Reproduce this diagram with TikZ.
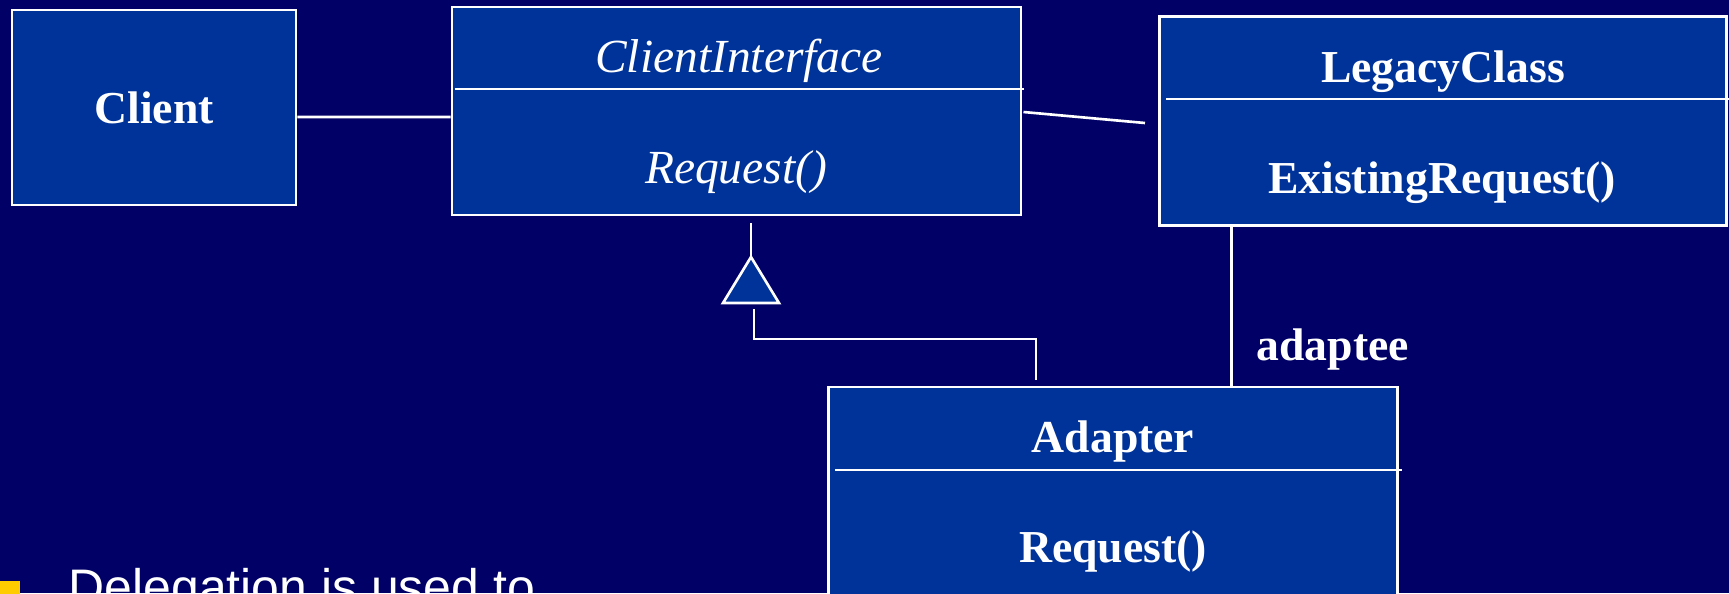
\documentclass[tikz,border=0pt]{standalone}
\usepackage{fontspec}
\setmainfont{Liberation Serif}
\newfontfamily\slidefont{Liberation Sans}
\usetikzlibrary{positioning}
\definecolor{slidebg}{RGB}{0,0,102}
\definecolor{boxblue}{RGB}{0,51,153}
\definecolor{bulletgold}{RGB}{255,204,0}
\tikzset{
  cls/.style={draw=white,fill=boxblue,line width=0.75pt,inner sep=0pt},
  lnk/.style={white,line width=0.75pt},
  nm/.style={text=white,font=\bfseries\fontsize{13}{15}\selectfont,anchor=base,inner sep=0pt},
  absnm/.style={nm,font=\itshape\fontsize{13.5}{16}\selectfont},
  bullettxt/.style={text=white,font=\slidefont\fontsize{14.2}{17}\selectfont,anchor=base west,inner sep=0pt}
}

\begin{document}
\begin{tikzpicture}[x=0.01cm,y=-0.01cm]
  \useasboundingbox (0,0) rectangle (1729,593);
  \clip (0,0) rectangle (1729,593);
  \fill[slidebg] (0,0) rectangle (1729,593);
  % classes
  \node[cls,minimum width=2.84cm,minimum height=1.95cm] (client) at (154,107.5) {};
  \node[cls,minimum width=5.69cm,minimum height=2.08cm] (ci) at (736.5,111) {};
  \node[cls,minimum width=5.67cm,minimum height=2.09cm] (legacy) at (1443,121) {};
  \node[cls,minimum width=5.69cm,minimum height=2.40cm] (adapter) at (1113,507) {};
  \draw[lnk] ([xshift=.04cm,yshift=.22cm]ci.west) -- ([xshift=.02cm,yshift=.22cm]ci.east);
  \draw[lnk] ([xshift=.08cm,yshift=.22cm]legacy.west) -- ([xshift=.03cm,yshift=.22cm]legacy.east);
  \draw[lnk] ([xshift=.08cm,yshift=.37cm]adapter.west) -- ([xshift=.03cm,yshift=.37cm]adapter.east);
  % names and operations
  \node[nm] (clientnm) at (154,123) {Client};
  \node[absnm] (cinm) at (739,72) {ClientInterface};
  \node[absnm] (cireq) at (736,183) {Request()};
  \node[nm] (legacynm) at (1443,82) {LegacyClass};
  \node[nm] (legacyreq) at (1442,193) {ExistingRequest()};
  \node[nm] (adapternm) at (1113,452) {Adapter};
  \node[nm] (adapterreq) at (1113,562) {Request()};
  \node[nm,anchor=base west] (adlbl) at (1256,360) {adaptee};
  % links
  \draw[lnk] ([yshift=-.095cm]client.east) -- ([yshift=-.06cm]ci.west);
  \draw[lnk] ([xshift=.01cm,yshift=-.01cm]ci.east) -- ([xshift=-.13cm,yshift=-.02cm]legacy.west);
  \draw[lnk] ([xshift=.735cm]legacy.south west) -- ([xshift=.735cm]legacy.south west |- adapter.north);
  % generalization
  \coordinate (tip) at (751,257);
  \coordinate (tbl) at (723,303);
  \coordinate (tbr) at (779,303);
  \coordinate[below=.07cm of ci.south] (gtop);
  \coordinate (gbot) at (754,309);
  \coordinate (ahook) at (1036,380);
  \draw[lnk] (tip) -- (tip |- gtop);
  \draw[lnk,fill=boxblue,line join=miter] (tip) -- (tbl) -- (tbr) -- cycle;
  \draw[lnk] (gbot) |- ([yshift=.41cm]ahook) -- (ahook);
  % bullet
  \fill[bulletgold] (0,581) rectangle (20,601);
  \node[bullettxt] (deleg) at (68,604) {Delegation is used to};
\end{tikzpicture}
\end{document}
